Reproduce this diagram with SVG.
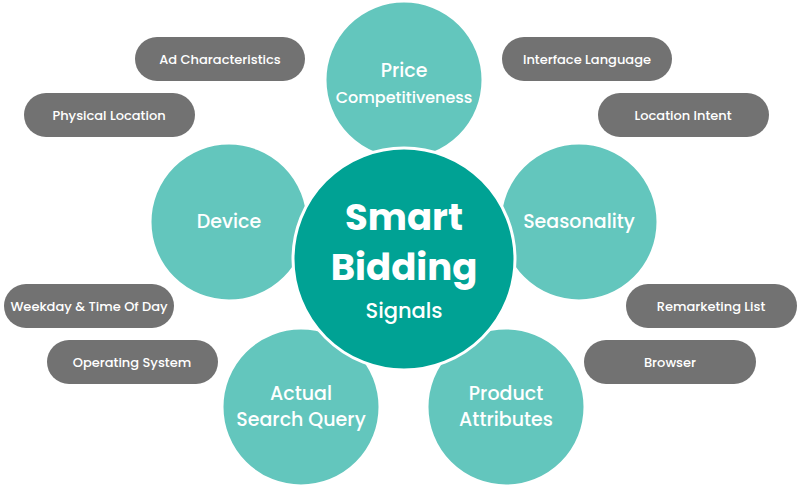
<svg xmlns="http://www.w3.org/2000/svg" width="800" height="490" viewBox="0 0 800 490">
<style>
.c{fill:#63c6bd;stroke:#fff;stroke-width:3}
.p{fill:#727272}
.pt{font-family:Poppins,"Open Sans","Liberation Sans",sans-serif;font-size:13px;fill:#fff;text-anchor:middle;font-weight:500}
.ct{font-family:Poppins,"Open Sans","Liberation Sans",sans-serif;font-size:19px;fill:#fff;text-anchor:middle;font-weight:500}
</style>
<rect width="800" height="490" fill="#fff"/>
<g id="connectors"></g>
<g id="pill-ad"><rect class="p" x="135" y="37" width="170" height="44" rx="22"/><text class="pt" x="220" y="64">Ad Characteristics</text></g>
<g id="pill-phys"><rect class="p" x="24" y="93" width="171" height="44" rx="22"/><text class="pt" x="109" y="120">Physical Location</text></g>
<g id="pill-iface"><rect class="p" x="502" y="37" width="170" height="44" rx="22"/><text class="pt" x="587" y="64">Interface Language</text></g>
<g id="pill-locint"><rect class="p" x="598" y="93" width="171" height="44" rx="22"/><text class="pt" x="683" y="120">Location Intent</text></g>
<g id="pill-week"><rect class="p" x="4" y="284" width="170" height="44" rx="22"/><text class="pt" x="89" y="311">Weekday &amp; Time Of Day</text></g>
<g id="pill-os"><rect class="p" x="47" y="340" width="171" height="44" rx="22"/><text class="pt" x="132" y="367">Operating System</text></g>
<g id="pill-remark"><rect class="p" x="626" y="284" width="171" height="44" rx="22"/><text class="pt" x="711" y="311">Remarketing List</text></g>
<g id="pill-browser"><rect class="p" x="584" y="340" width="172" height="44" rx="22"/><text class="pt" x="670" y="367">Browser</text></g>
<g id="price"><circle class="c" cx="404" cy="80" r="79"/><text class="ct" x="404" y="77">Price</text><text class="ct" x="404" y="103" style="font-size:16px">Competitiveness</text></g>
<g id="device"><circle class="c" cx="229" cy="222" r="79"/><text class="ct" x="229" y="228">Device</text></g>
<g id="season"><circle class="c" cx="579" cy="222" r="79"/><text class="ct" x="579" y="228">Seasonality</text></g>
<g id="query"><circle class="c" cx="301" cy="407" r="79"/><text class="ct" x="301" y="400">Actual</text><text class="ct" x="301" y="426">Search Query</text></g>
<g id="product"><circle class="c" cx="506" cy="407" r="79"/><text class="ct" x="506" y="400">Product</text><text class="ct" x="506" y="426">Attributes</text></g>
<g id="center"><circle cx="404" cy="259" r="111" fill="#00a294" stroke="#fff" stroke-width="3"/>
<text class="ct" x="404" y="230" style="font-size:37px;font-weight:bold">Smart</text>
<text class="ct" x="404" y="280" style="font-size:37px;font-weight:bold">Bidding</text>
<text class="ct" x="404" y="318" style="font-size:21px">Signals</text></g>
</svg>
